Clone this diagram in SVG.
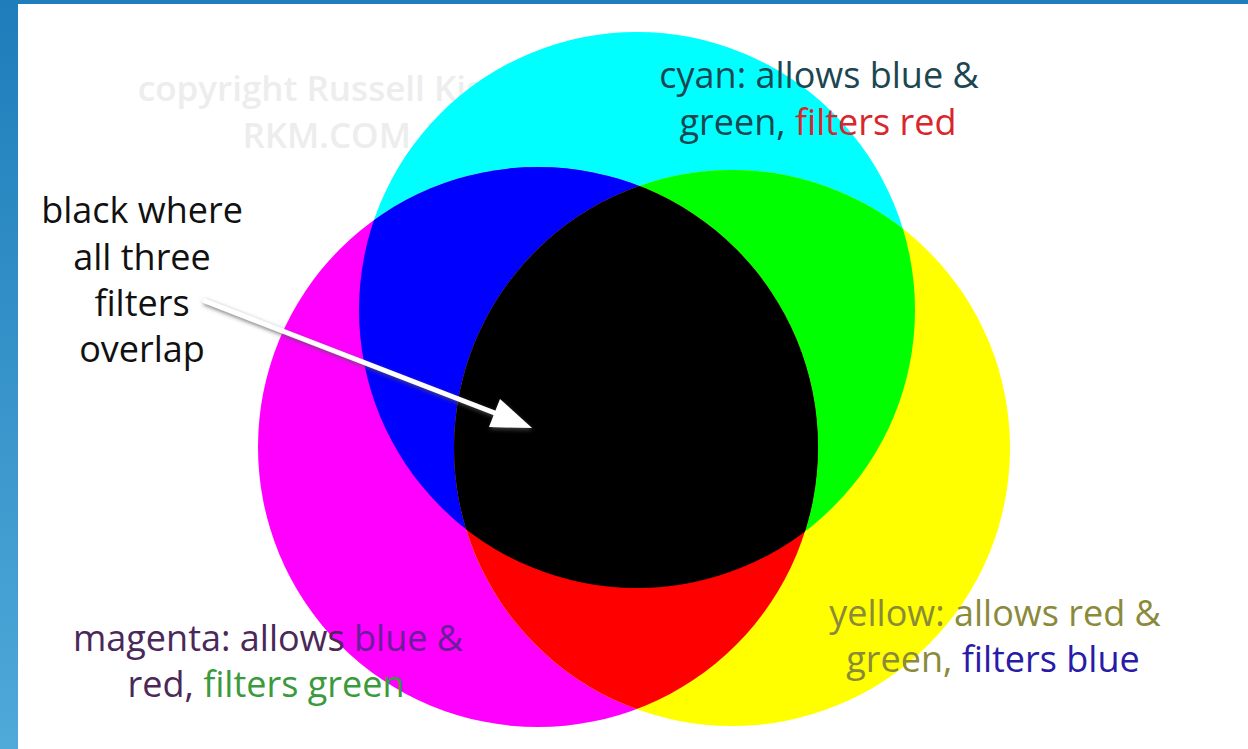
<svg xmlns="http://www.w3.org/2000/svg" width="1248" height="749" viewBox="0 0 1248 749">
<defs>
<linearGradient id="edge" x1="0" y1="0" x2="0" y2="1">
<stop offset="0" stop-color="#1e7dba"/>
<stop offset="1" stop-color="#4fa9d9"/>
</linearGradient>
<clipPath id="cC"><circle cx="637" cy="310" r="278"/></clipPath>
<clipPath id="cM"><circle cx="538" cy="447" r="280"/></clipPath>
<filter id="sh" x="-20%" y="-50%" width="140%" height="200%">
<feDropShadow dx="1" dy="2" stdDeviation="2" flood-color="#555" flood-opacity="0.8"/>
</filter>
<style>
text{font-family:"Open Sans",Lato,"Liberation Sans",sans-serif;font-size:36px;font-weight:500;text-anchor:middle}
.cp{fill:#ededed;font-size:35px;font-weight:600}
</style>
</defs>
<rect x="0" y="0" width="1248" height="749" fill="#ffffff"/>
<rect x="0" y="0" width="18" height="749" fill="url(#edge)"/>
<rect x="0" y="0" width="1248" height="4" fill="#1e7dba"/>
<g id="copyright">
<text class="cp" x="354" y="101">copyright Russell Kightley</text>
<text class="cp" x="356" y="148">RKM.COM.AU</text>
</g>
<g id="circles">
<circle id="cyan" cx="637" cy="310" r="278" fill="#00ffff"/>
<circle id="magenta" cx="538" cy="447" r="280" fill="#ff00ff"/>
<circle id="yellow" cx="732" cy="448" r="278" fill="#ffff00"/>
<g clip-path="url(#cC)"><circle cx="538" cy="447" r="280" fill="#0000ff"/></g>
<g clip-path="url(#cC)"><circle cx="732" cy="448" r="278" fill="#00ff00"/></g>
<g clip-path="url(#cM)"><circle cx="732" cy="448" r="278" fill="#ff0000"/></g>
<g clip-path="url(#cC)"><g clip-path="url(#cM)"><circle cx="732" cy="448" r="278" fill="#000000"/></g></g>
</g>
<g id="label-black" fill="#111">
<text x="142" y="223">black where</text>
<text x="142" y="270">all three</text>
<text x="142" y="316">filters</text>
<text x="142" y="362">overlap</text>
</g>
<g id="label-cyan">
<text x="819" y="88" fill="#1c4752">cyan: allows blue &amp;</text>
<text x="818" y="135" fill="#1c4752">green, <tspan fill="#d8262c">filters red</tspan></text>
</g>
<g id="label-magenta">
<text x="268" y="651" fill="#4a2858">magenta: allows <tspan fill="#6a1e9a">blue &amp;</tspan></text>
<text x="266" y="697" fill="#4a2858">red, <tspan fill="#3a9a3c">filters green</tspan></text>
</g>
<g id="label-yellow">
<text x="995" y="626" fill="#8a8a3a">yellow: allows red &amp;</text>
<text x="993" y="672" fill="#8a8a3a">green, <tspan fill="#2a1aa8">filters blue</tspan></text>
</g>
<g id="connectors" filter="url(#sh)">
<line x1="205" y1="301" x2="500" y2="415" stroke="#ffffff" stroke-width="5" stroke-linecap="round"/>
<polygon points="532,428 489,427 500,399" fill="#ffffff"/>
</g>
</svg>
